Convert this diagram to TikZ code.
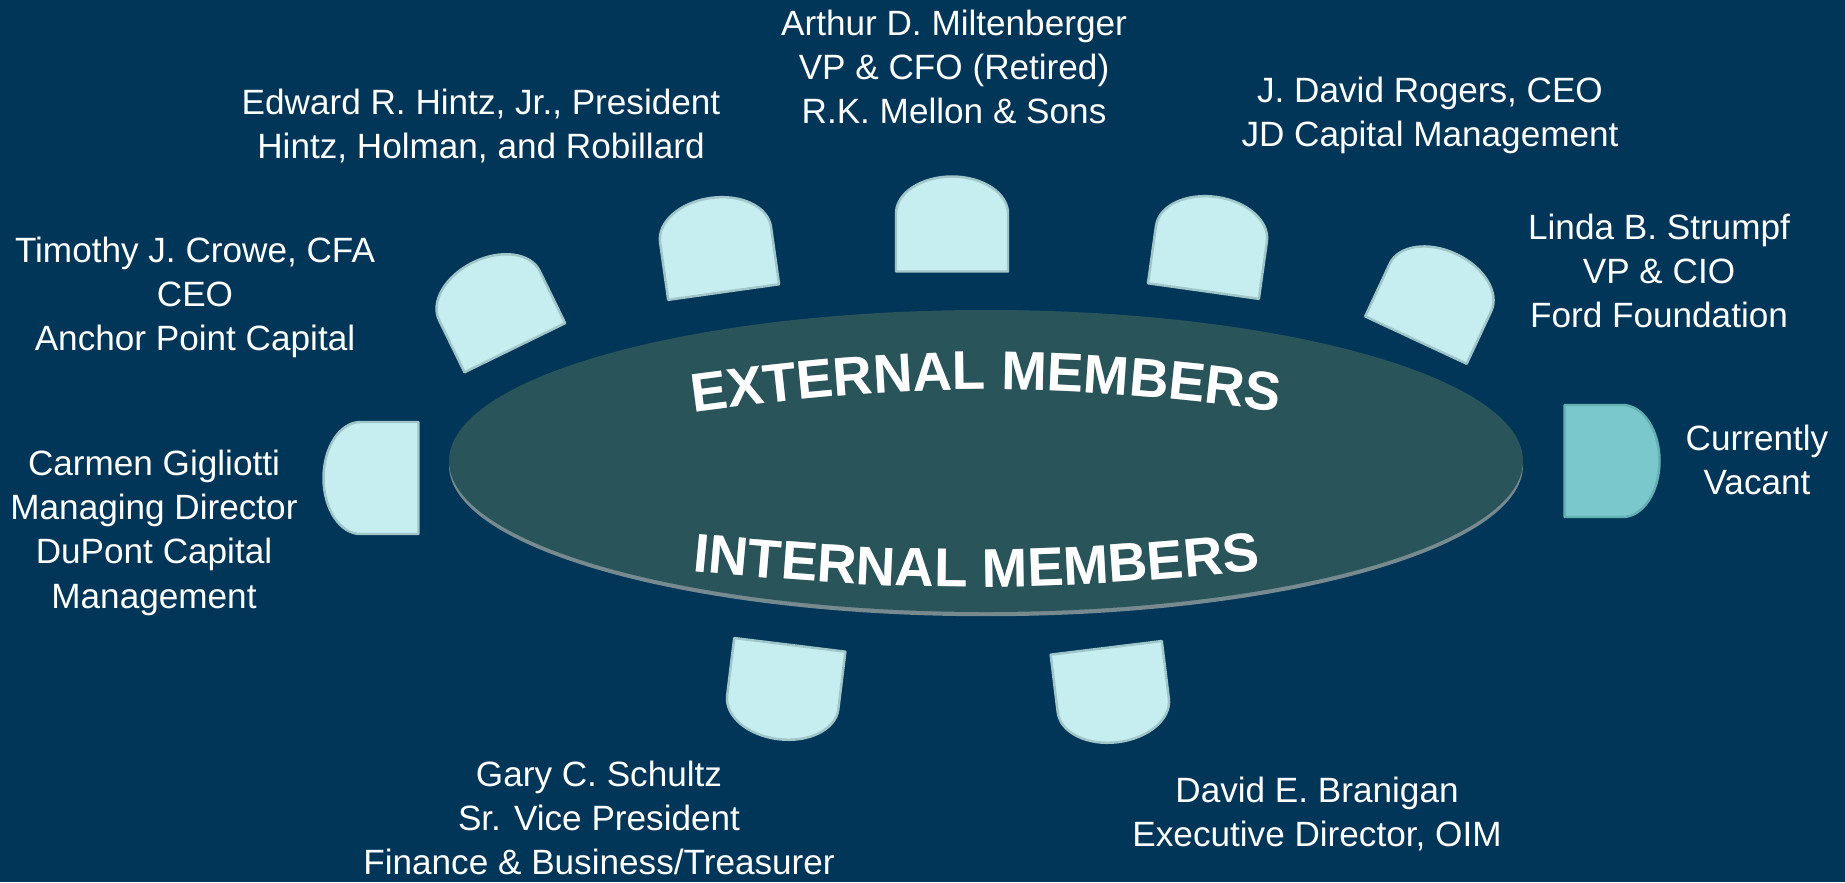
\documentclass[tikz,border=0pt]{standalone}
\usepackage{fontspec}
\setmainfont{Liberation Sans}
\usetikzlibrary{decorations.text}

\definecolor{boardbg}{RGB}{2,54,88}
\definecolor{tabletop}{RGB}{41,84,90}
\definecolor{tablerim}{RGB}{118,138,143}
\definecolor{seatfill}{RGB}{198,237,239}
\definecolor{seatedge}{RGB}{160,198,201}
\definecolor{vacantfill}{RGB}{122,200,204}
\definecolor{vacantedge}{RGB}{100,176,180}
\definecolor{letterrim}{RGB}{135,148,152}

\newcommand{\tabletitlefont}{\fontsize{15.5}{16}\selectfont\bfseries}

\begin{document}
\begin{tikzpicture}[
	member/.style={ text=white, align=center, anchor=north, inner sep=0pt, font=\fontsize{10}{12.6}\selectfont },
	seat/.style={ fill=seatfill, draw=seatedge, line width=0.7pt, line join=round },
	seatv/.style={ fill=vacantfill, draw=vacantedge, line width=0.7pt, line join=round },
	tableword/.style={ decorate, decoration={ text along path, text align=center, text color=#1 } }
]

\useasboundingbox (0,0) rectangle (18.45,8.82);
\fill[boardbg] (0,0) rectangle (18.45,8.82);

% the table
\coordinate (tablemid) at (9.86,4.21);
\fill[tablerim] ([yshift=-1.2pt]tablemid) ellipse [x radius=5.37, y radius=1.51];
\fill[tabletop] (tablemid) ellipse [x radius=5.37, y radius=1.51];

% chairs: x / y / turn
\foreach \x/\y/\a in {4.94/5.77/26, 7.17/6.37/8, 9.52/6.58/0, 12.10/6.38/-8, 14.36/5.85/-25, 3.71/4.04/90, 7.84/1.90/173, 11.12/1.87/187}
  \draw[seat, shift={(\x,\y)}, rotate=\a] (-0.56,-0.475) -- (-0.56,0.105)
    arc[start angle=180, end angle=0, x radius=0.56, y radius=0.37] -- (0.56,-0.475) -- cycle;
\draw[seatv, shift={(16.12,4.21)}, rotate=-90] (-0.56,-0.475) -- (-0.56,0.105)
    arc[start angle=180, end angle=0, x radius=0.56, y radius=0.37] -- (0.56,-0.475) -- cycle;

% lettering on the table
\coordinate (ext-l) at (6.98,4.70);
\coordinate (ext-r) at (12.74,4.71);
\coordinate (int-l) at (7.02,3.10);
\coordinate (int-r) at (12.51,3.11);
\path[tableword=letterrim, decoration={text={|\tabletitlefont|EXTERNAL MEMBERS}}, xshift=0.5pt, yshift=-1pt] (ext-l) to[bend left=7.5] (ext-r);
\path[tableword=white, decoration={text={|\tabletitlefont|EXTERNAL MEMBERS}}] (ext-l) to[bend left=7.5] (ext-r);
\path[tableword=letterrim, decoration={text={|\tabletitlefont|INTERNAL MEMBERS}}, xshift=0.5pt, yshift=-1pt] (int-l) to[bend right=5.6] (int-r);
\path[tableword=white, decoration={text={|\tabletitlefont|INTERNAL MEMBERS}}] (int-l) to[bend right=5.6] (int-r);

% members
\node[member] (miltenberger) at (9.54,8.73) {Arthur D. Miltenberger\\VP \& CFO (Retired)\\R.K. Mellon \& Sons};
\node[member] (hintz) at (4.81,7.94) {Edward R. Hintz, Jr., President\\Hintz, Holman, and Robillard};
\node[member] (rogers) at (14.30,8.06) {J. David Rogers, CEO\\JD Capital Management};
\node[member] (crowe) at (1.95,6.46) {Timothy J. Crowe, CFA\\CEO\\Anchor Point Capital};
\node[member] (strumpf) at (16.59,6.69) {Linda B. Strumpf\\VP \& CIO\\Ford Foundation};
\node[member] (vacant) at (17.57,4.58) {Currently\\Vacant};
\node[member] (gigliotti) at (1.54,4.33) {Carmen Gigliotti\\Managing Director\\DuPont Capital\\Management};
\node[member] (schultz) at (5.99,1.22) {Gary C. Schultz\\Sr. Vice President\\Finance \& Business/Treasurer};
\node[member] (branigan) at (13.17,1.06) {David E. Branigan\\Executive Director, OIM};

\end{tikzpicture}
\end{document}
